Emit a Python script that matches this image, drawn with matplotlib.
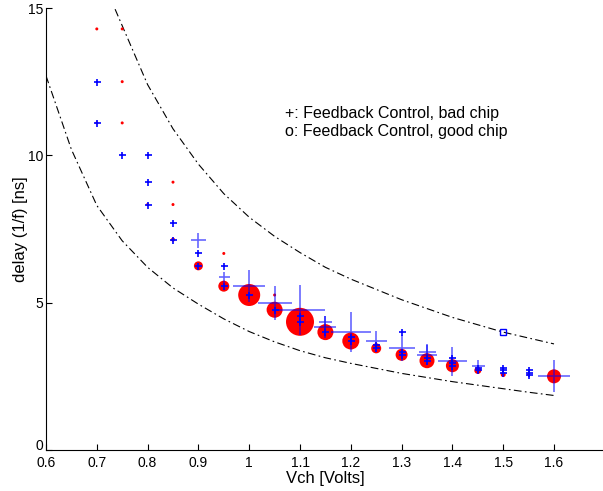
import matplotlib
matplotlib.use("Agg")
import matplotlib.pyplot as plt
import matplotlib.transforms as mtransforms

plt.rcParams['font.family'] = ['Liberation Sans', 'DejaVu Sans']

# bad chip (+), marker size in pixels
bad_v = [0.7, 0.7, 0.75, 0.8, 0.8, 0.8, 0.85, 0.85, 0.9, 0.9, 0.9,
         0.95, 0.95, 0.95, 1.0, 1.0, 1.05, 1.05, 1.1, 1.1, 1.1,
         1.15, 1.15, 1.15, 1.2, 1.2, 1.2, 1.25, 1.25, 1.25,
         1.3, 1.3, 1.3, 1.3, 1.35, 1.35, 1.35, 1.35, 1.4, 1.4, 1.4, 1.4,
         1.45, 1.45, 1.45, 1.5, 1.5, 1.5, 1.55, 1.55, 1.55, 1.6]
bad_d = [12.5, 11.1, 10.0, 10.0, 9.09, 8.33, 7.69, 7.14, 7.14, 6.67, 6.25,
         6.25, 5.88, 5.56, 5.56, 5.26, 5.0, 4.76, 4.76, 4.55, 4.35,
         4.35, 4.17, 4.0, 4.0, 3.85, 3.70, 3.70, 3.57, 3.45,
         4.0, 3.45, 3.33, 3.23, 3.33, 3.23, 3.125, 3.03, 3.125, 3.03, 2.94, 2.86,
         2.86, 2.78, 2.70, 2.78, 2.70, 2.63, 2.70, 2.63, 2.56, 2.5]
bad_px = [7, 7, 7, 7, 7, 7, 7, 7, 15, 7, 7,
          7, 11, 7, 32, 7, 34, 7, 50, 7, 7,
          13, 23, 7, 40, 7, 7, 21, 7, 7,
          7, 27, 7, 7, 17, 20, 7, 7, 7, 29, 7, 7,
          13, 7, 7, 7, 7, 7, 7, 7, 7, 32]

# good chip (o), marker diameter in pixels
good_v = [0.7, 0.7, 0.75, 0.75, 0.75, 0.8, 0.85, 0.85, 0.85, 0.9,
          0.95, 0.95, 1.0, 1.05, 1.05, 1.1, 1.15, 1.2, 1.25, 1.3,
          1.35, 1.4, 1.45, 1.5, 1.55, 1.6]
good_d = [14.29, 11.1, 14.29, 12.5, 11.1, 8.33, 9.09, 8.33, 7.14, 6.25,
          6.67, 5.56, 5.26, 5.26, 4.76, 4.35, 4.0, 3.70, 3.45, 3.23,
          3.03, 2.86, 2.70, 2.56, 2.56, 2.5]
good_px = [3, 3, 3, 3, 3, 3, 3, 3, 4, 9,
           3, 11, 22, 3, 16, 28, 16, 17, 10, 12,
           15, 13, 7, 5, 3, 14]

# bounding curves
upper_v = [0.736, 0.75, 0.8, 0.85, 0.9, 0.95, 1.0, 1.05, 1.1, 1.15, 1.2,
           1.25, 1.3, 1.35, 1.4, 1.45, 1.5, 1.55, 1.6]
upper_d = [14.96, 14.4, 12.4, 10.9, 9.7, 8.7, 7.9, 7.25, 6.7, 6.2, 5.8,
           5.45, 5.1, 4.8, 4.5, 4.25, 4.0, 3.8, 3.6]
lower_v = [0.6, 0.65, 0.7, 0.75, 0.8, 0.85, 0.9, 0.95, 1.0, 1.05, 1.1,
           1.15, 1.2, 1.25, 1.3, 1.35, 1.4, 1.45, 1.5, 1.55, 1.6]
lower_d = [12.7, 10.2, 8.3, 7.1, 6.2, 5.5, 4.95, 4.45, 4.02, 3.67, 3.37,
           3.13, 2.94, 2.77, 2.6, 2.46, 2.32, 2.2, 2.08, 1.96, 1.85]

px2pt = 72.0 / 100

fig = plt.figure(figsize=(6.03, 4.91), dpi=100)
ax = fig.add_axes([46 / 603, 41 / 491, 558.8 / 603, 442 / 491])

dashdot = (0, (7, 3, 1.5, 3))
ax.plot(upper_v, upper_d, color='black', lw=0.8, linestyle=dashdot)
ax.plot(lower_v, lower_d, color='black', lw=0.8, linestyle=dashdot)

ax.scatter(good_v, good_d, s=[(p * px2pt) ** 2 for p in good_px],
           color='red', edgecolors='none', zorder=3)

for v, d, p in zip(bad_v, bad_d, bad_px):
    big = p > 10
    ax.plot(v, d, marker='+', color='blue', markersize=p * px2pt,
            markeredgewidth=1.2, alpha=0.6 if big else 1.0, zorder=4)

ax.plot(1.5, 4.0, marker='s', markersize=6 * px2pt, markerfacecolor='none',
        markeredgecolor='blue', markeredgewidth=1.0, zorder=4)

ax.text(1.07, 11.43, '+: Feedback Control, bad chip', fontsize=11.5, va='center')
ax.text(1.07, 10.82, 'o: Feedback Control, good chip', fontsize=11.5, va='center')

ax.set_xlim(0.6, 1.7)
ax.set_ylim(0, 15)
ax.set_xticks([0.6, 0.7, 0.8, 0.9, 1.0, 1.1, 1.2, 1.3, 1.4, 1.5, 1.6])
ax.set_xticklabels(['0.6', '0.7', '0.8', '0.9', '1', '1.1', '1.2', '1.3',
                    '1.4', '1.5', '1.6'])
ax.set_yticks([0, 5, 10, 15])
ax.tick_params(direction='in', length=4, labelsize=10, pad=2)
ax.tick_params(axis='x', pad=4)
ax.spines['top'].set_visible(False)
ax.spines['right'].set_visible(False)
ax.set_xlabel('Vch [Volts]', fontsize=12, labelpad=1)
ax.set_ylabel('delay (1/f) [ns]', fontsize=12, labelpad=0)

# matlab style: the zero label sits a little above the axis line
lab0 = ax.get_yticklabels()[0]
lab0.set_transform(lab0.get_transform() +
                   mtransforms.ScaledTranslation(0, 5 / 100, fig.dpi_scale_trans))

fig.savefig('out.png', dpi=100)
